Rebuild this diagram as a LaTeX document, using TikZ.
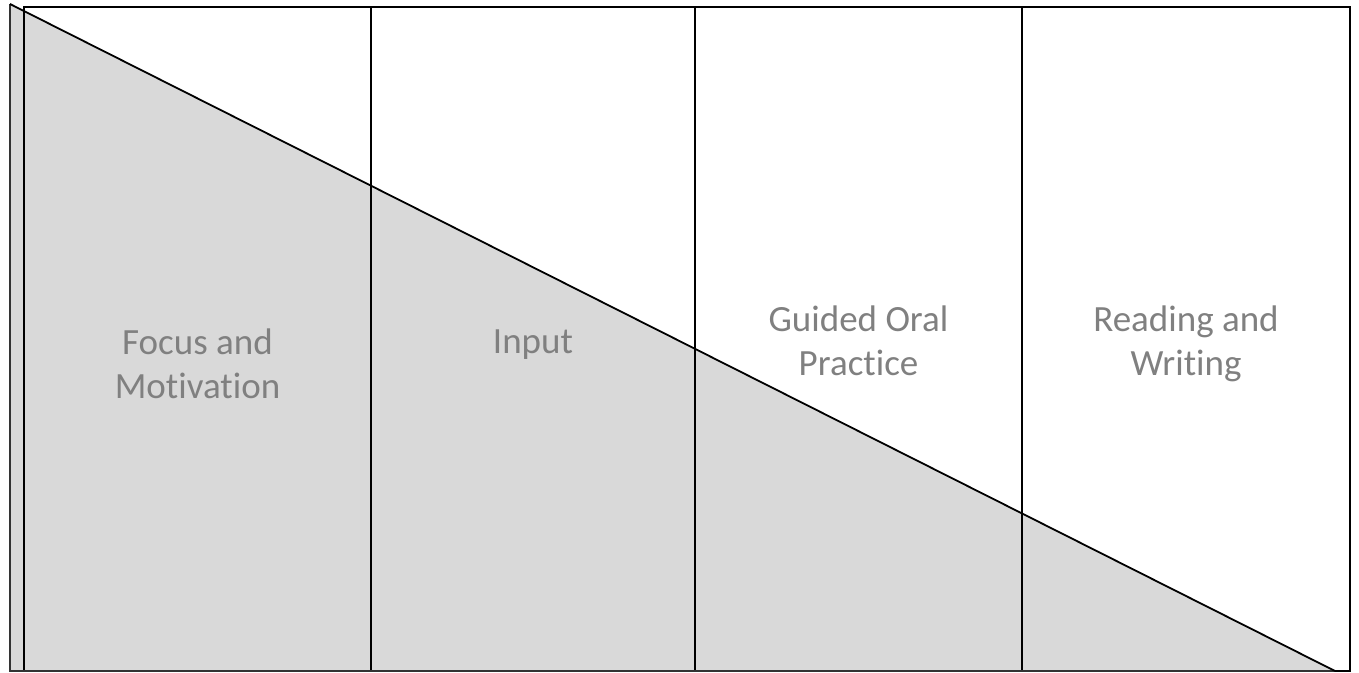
\documentclass[tikz,border=0pt]{standalone}
\usepackage{fontspec}
\setmainfont{Carlito}[Ligatures=NoCommon]
\usepackage{tikz}

\begin{document}
\begin{tikzpicture}[x=0.5pt,y=-0.5pt,
  stage text/.style={text=black!50,font=\fontsize{18.5}{22}\selectfont,align=center,anchor=base,inner sep=0pt},
  frame line/.style={line width=1.3pt,black}]
\useasboundingbox (0,0) rectangle (1359,673);
\fill[black!15] (10,4) -- (10,671) -- (1335,671) -- cycle; % wedge
\draw[frame line] (24,7) rectangle (1350,671); % table frame
\foreach \x in {371,695,1022}
  \draw[frame line] (\x,7) -- (\x,671); % columns
\draw[line width=0.6pt,black!80] (10,4) -- (10,671) -- (1335,671); % wedge edge
\draw[line width=0.9pt,black] (10,4) -- (1335,671); % slope
\node[stage text] (focus) at (197.5,399) {Focus and\\Motivation};
\node[stage text] (input) at (533,354) {Input};
\node[stage text] (oral) at (858.5,376) {Guided Oral\\Practice};
\node[stage text] (reading) at (1186,376) {Reading and\\Writing};
\end{tikzpicture}
\end{document}
